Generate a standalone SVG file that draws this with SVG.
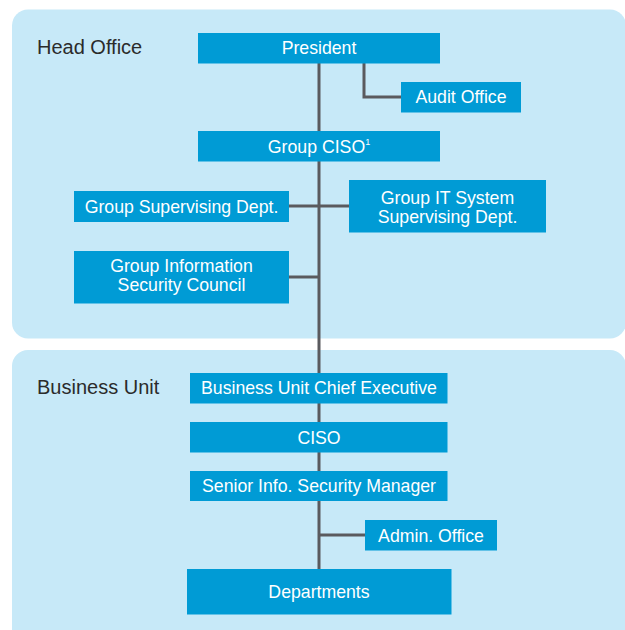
<svg xmlns="http://www.w3.org/2000/svg" width="625" height="630" viewBox="0 0 625 630">
<style>
.panel{fill:#c7e9f8;}
.box{fill:#009bd5;}
.t{font-family:"Liberation Sans",Arial,sans-serif;font-size:17.7px;fill:#ffffff;text-anchor:middle;}
.h{font-family:"Liberation Sans",Arial,sans-serif;font-size:20px;fill:#2b2b2b;}
.c{stroke:#5a5a5e;stroke-width:3;fill:none;}
</style>
<rect width="625" height="630" fill="#ffffff"/>
<g id="panel-head"><rect class="panel" x="12" y="9.5" width="614" height="329" rx="16"/><text class="h" x="37" y="54">Head Office</text></g>
<g id="panel-bu"><rect class="panel" x="12" y="350" width="614" height="300" rx="16"/><text class="h" x="37" y="394">Business Unit</text></g>
<g id="connectors">
<path class="c" d="M319 63 V569"/>
<path class="c" d="M364 63 V97 H401"/>
<path class="c" d="M289 206 H349"/>
<path class="c" d="M289 277 H319"/>
<path class="c" d="M319 535 H365"/>
</g>
<g id="president"><rect class="box" x="198" y="33" width="242" height="30.5"/><text class="t" x="319" y="54">President</text></g>
<g id="audit"><rect class="box" x="401" y="82" width="120" height="30.5"/><text class="t" x="461" y="103">Audit Office</text></g>
<g id="group-ciso"><rect class="box" x="198" y="131" width="242" height="30.5"/><text class="t" x="319" y="152.5">Group CISO<tspan font-size="9" dy="-8">1</tspan></text></g>
<g id="group-supervising"><rect class="box" x="74" y="191" width="215" height="31"/><text class="t" x="181.5" y="212.5">Group Supervising Dept.</text></g>
<g id="group-it"><rect class="box" x="349" y="180" width="197" height="52.5"/><text class="t" x="447.5" y="203.5">Group IT System</text><text class="t" x="447.5" y="222.5">Supervising Dept.</text></g>
<g id="group-council"><rect class="box" x="74" y="251" width="215" height="52.5"/><text class="t" x="181.5" y="271.5">Group Information</text><text class="t" x="181.5" y="290.5">Security Council</text></g>
<g id="bu-chief"><rect class="box" x="190" y="373" width="257.5" height="30.5"/><text class="t" x="319" y="394">Business Unit Chief Executive</text></g>
<g id="ciso"><rect class="box" x="190" y="422" width="257.5" height="30.5"/><text class="t" x="319" y="443.5">CISO</text></g>
<g id="senior"><rect class="box" x="190" y="471" width="257.5" height="30"/><text class="t" x="319" y="492">Senior Info. Security Manager</text></g>
<g id="admin"><rect class="box" x="365" y="520" width="132" height="30.5"/><text class="t" x="431" y="541.5">Admin. Office</text></g>
<g id="departments"><rect class="box" x="187" y="569" width="264.5" height="45.5"/><text class="t" x="319" y="597.5">Departments</text></g>
</svg>
